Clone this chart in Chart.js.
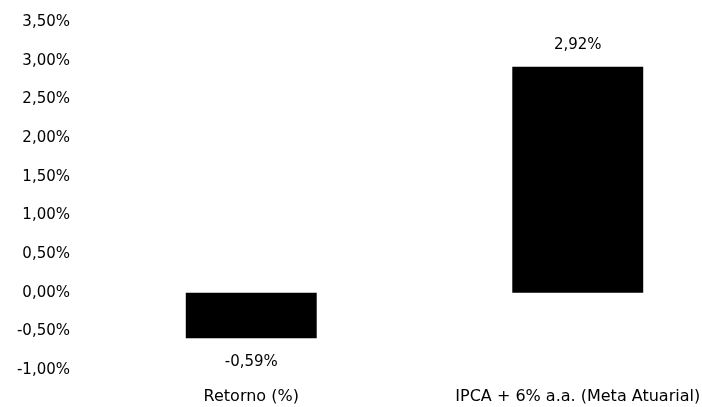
<!DOCTYPE html>
<html>
<head>
<meta charset="utf-8">
<script src="https://cdn.jsdelivr.net/npm/chart.js@4/dist/chart.umd.min.js"></script>
<style>
  html, body { margin: 0; padding: 0; background: #fff; overflow: hidden; width: 702px; height: 407px; }
  #wrap { width: 741px; height: 407px; }
</style>
</head>
<body>
<div id="wrap"><canvas id="c" width="741" height="407"></canvas></div>
<script>
// Rentabilidade acumulada x meta atuarial
const categories = ['Retorno (%)', 'IPCA + 6% a.a. (Meta Atuarial)'];
const values = [-0.59, 2.92];
const yMin = -1.0;
const yMax = 3.5;
const yStep = 0.5;

const FONT = { family: '"DejaVu Sans", sans-serif', size: 15 };
const CAT_FONT = { family: '"DejaVu Sans", sans-serif', size: 16 };
const INK = '#000000';

// Brazilian number format: "2,92%"
const pct = v => v.toFixed(2).replace('.', ',') + '%';

// Writes each bar's value above (positive) or below (negative) the bar
const valueLabels = {
  id: 'valueLabels',
  afterDatasetsDraw(chart) {
    const ctx = chart.ctx;
    const meta = chart.getDatasetMeta(0);
    ctx.save();
    ctx.font = `${FONT.size}px ${FONT.family}`;
    ctx.fillStyle = INK;
    ctx.textAlign = 'center';
    ctx.textBaseline = 'middle';
    meta.data.forEach((bar, i) => {
      const v = chart.data.datasets[0].data[i];
      const y = v >= 0 ? bar.y - 22 : bar.y + 24;
      ctx.fillText(pct(v), bar.x, y);
    });
    ctx.restore();
  }
};

new Chart(document.getElementById('c'), {
  type: 'bar',
  data: {
    labels: categories,
    datasets: [{
      data: values,
      backgroundColor: INK,
      borderWidth: 0,
      categoryPercentage: 1.0,
      barPercentage: 0.401
    }]
  },
  options: {
    responsive: false,
    animation: false,
    layout: { padding: { top: 22, right: 0, bottom: 0, left: 0 } },
    plugins: { legend: { display: false }, tooltip: { enabled: false } },
    scales: {
      x: {
        grid: { display: false, drawTicks: false },
        border: { display: false },
        ticks: { color: INK, font: CAT_FONT, padding: 17, maxRotation: 0, autoSkip: false },
        afterFit(scale) { scale.height = 37; }
      },
      y: {
        min: yMin,
        max: yMax,
        grid: { display: false, drawTicks: false },
        border: { display: false },
        ticks: {
          stepSize: yStep,
          color: INK,
          font: FONT,
          padding: 18,
          callback: v => pct(v)
        },
        afterFit(scale) {
          scale.width = 88;
          // the plot's top edge is set by layout.padding alone
          scale.paddingTop = 0;
          scale.paddingBottom = 0;
        }
      }
    }
  },
  plugins: [valueLabels]
});
</script>
</body>
</html>
